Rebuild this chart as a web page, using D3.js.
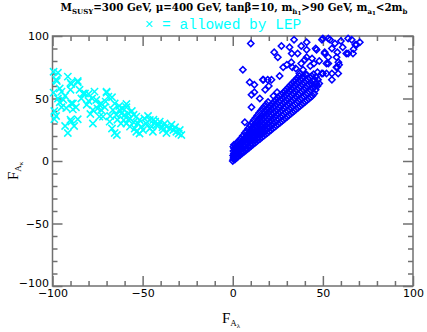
<!DOCTYPE html>
<html>
<head>
<meta charset="utf-8">
<script src="https://d3js.org/d3.v7.min.js"></script>
<style>
  body { margin: 0; background: #fff; }
  .tick text { font-family: "DejaVu Sans", sans-serif; font-size: 11px; fill: #000; }
</style>
</head>
<body>
<svg id="chart" width="427" height="332"></svg>
<script>
  // allowed by LEP (cyan crosses), [F_A_lambda, F_A_kappa]
  const lepPoints = [
    [-99.4,71.4],[-97,70.6],[-97.6,64],[-98,65],[-99.4,54.7],[-96,58],[-95,55.5],[-97,50],[-94,49],[-95,43],
    [-99,33.5],[-99,40],[-91.5,67.5],[-90,62.7],[-89.6,61.6],[-90,57],[-86,63],[-86,64],[-89.6,46],[-88.7,46],
    [-88.7,41.3],[-92.4,42.4],[-87,43],[-93,28],[-91.5,22.4],[-89.6,31.5],[-88,28],[-86,33.4],[-90,33],[-83,54],
    [-82,54],[-80,53.6],[-76.7,55.5],[-78,50],[-75.7,48.8],[-81,45],[-77.6,40.8],[-79,37.6],[-77.6,30],[-74,45],
    [-73,46],[-73,40.8],[-72,35.5],[-70,55.5],[-70,54.7],[-69,51.5],[-70.5,47.5],[-74,35.5],[-68.3,31.5],[-67,26],
    [-67,51],[-65.5,46],[-66.5,40.8],[-64.6,36.8],[-64.3,20.8],[-65.5,22.4],[-62.8,40.8],[-61,42],[-59,43],[-59,45.6],
    [-60,36.8],[-61.8,38],[-58,38],[-57,34],[-60.5,32.8],[-59,30],[-57,27.5],[-63,44],[-56,40],[-55,37],
    [-53.5,35.5],[-52.6,30],[-51.7,32.8],[-50.7,27.5],[-54.4,26],[-49,34],[-48,30],[-46,32.8],[-45,27.5],[-43,31.5],
    [-42.4,28.8],[-40.5,31.5],[-38.7,24.8],[-36.8,27.5],[-35,26],[-33,24.8],[-31.3,23.4],[-28.5,20.8],[-29.4,24.8],[-36.8,22.4],
    [-37.8,30],[-44.3,23.4],[-49.8,24.8],[-51.7,22],[-53.5,23.4],[-47,36],[-44,33],[-41,29],[-39,27],[-34,29],
    [-32,27],[-30,22],[-46,26],[-55,31],[-58,33],[-62,30],[-64,33],[-68,36],[-71,43],[-75,42],
    [-80,48],[-84,50],[-85,57],[-93,52],[-96,47],[-98,36]
  ];

  // all points (blue diamonds), [F_A_lambda, F_A_kappa]
  const allPoints = [
    [0,0],[0.3,1.5],[0.5,3],[0.2,4.5],[0.6,6],[0.4,8],[0.8,10],[0.3,11.5],[0.7,13],[1.2,1.2],
    [1.5,2.8],[1.1,4.6],[1.6,6.5],[1.3,8.4],[1.8,10.6],[1.4,12.8],[2.2,2.6],[2.5,4.2],[2.1,6],[2.7,7.8],
    [2.4,9.9],[2.9,12],[2.3,14.6],[3.1,3.7],[3.4,5.4],[3.2,7.3],[3.6,9.2],[3.3,11.5],[3.8,13.9],[3.5,16.4],
    [4.1,4.8],[4.4,6.6],[4.2,8.5],[4.7,10.6],[4.3,12.9],[4.9,15.3],[4.5,18],[5.2,6.1],[5.5,7.9],[5.1,10],
    [5.8,12.2],[5.4,14.6],[5.9,17.1],[5.6,20.2],[6.1,7.2],[6.5,9.1],[6.3,11.4],[6.8,13.7],[6.4,16.3],[6.9,19],
    [6.7,22.5],[7.2,8.4],[7.5,10.3],[7.3,12.6],[7.8,15],[7.4,17.7],[7.9,20.6],[7.6,24.1],[8.2,9.6],[8.5,11.8],
    [8.3,14.1],[8.8,16.6],[8.4,19.4],[8.9,22.4],[8.6,26],[9.2,10.8],[9.5,13],[9.3,15.6],[9.8,18.3],[9.4,21.2],
    [9.9,24.5],[9.6,28.2],[10.2,12],[10.5,14.4],[10.3,17],[10.8,19.8],[10.4,23],[10.9,26.4],[10.6,30.5],[11.2,13.2],
    [11.5,15.6],[11.3,18.4],[11.8,21.5],[11.4,24.8],[11.9,28.4],[11.6,32.6],[12.2,14.3],[12.5,16.9],[12.3,19.8],[12.8,23],
    [12.4,26.5],[12.9,30.3],[12.6,34.5],[13.2,15.5],[13.5,18.2],[13.3,21.2],[13.8,24.5],[13.4,28.1],[13.9,32],[13.6,36.5],
    [14.2,16.7],[14.5,19.4],[14.3,22.6],[14.8,26],[14.4,29.8],[14.9,33.9],[14.6,38.4],[15.2,17.8],[15.5,20.7],[15.3,24],
    [15.8,27.6],[15.4,31.5],[15.9,35.7],[15.6,40.2],[16.2,19],[16.5,22],[16.3,25.4],[16.8,29],[16.4,33],[16.9,37.4],
    [16.6,42],[17.2,20.1],[17.5,23.3],[17.3,26.8],[17.8,30.6],[17.4,34.7],[17.9,39],[17.6,43.8],[18.2,21.3],[18.5,24.6],
    [18.3,28.2],[18.8,32.1],[18.4,36.3],[18.9,40.8],[18.6,45.5],[19.2,22.4],[19.5,25.9],[19.3,29.6],[19.8,33.7],[19.4,38],
    [19.9,42.5],[19.6,47.2],[20.2,23.6],[20.5,27.2],[20.3,31],[20.8,35.2],[20.4,39.6],[20.9,44.2],[21.2,24.8],
    [21.5,28.5],[21.3,32.4],[21.8,36.7],[21.4,41.2],[21.9,45.8],[22.2,26],[22.5,29.8],[22.3,33.8],[22.8,38.2],
    [22.4,42.8],[22.9,47.5],[22.6,52],[23.2,27.1],[23.5,31.1],[23.3,35.2],[23.8,39.7],[23.4,44.3],[23.9,49],
    [24.2,28.3],[24.5,32.4],[24.3,36.6],[24.8,41.2],[24.4,45.9],[24.9,50.6],[24.6,55],[25.2,29.5],[25.5,33.7],[25.3,38],
    [25.8,42.7],[25.4,47.4],[25.9,52.1],[26.2,30.6],[26.5,35],[26.3,39.5],[26.8,44],[26.4,48.6],[26.9,53],[27.2,31.8],
    [27.5,36.2],[27.3,40.8],[27.8,45.5],[27.4,50],[27.9,54.5],[28.2,33],[28.5,37.5],[28.3,42.2],[28.8,47],[28.4,51.6],
    [28.9,56],[29.2,34.2],[29.5,38.8],[29.3,43.5],[29.8,48.4],[29.4,53],[29.9,57.5],[30.2,35.4],[30.5,40],[30.3,44.8],
    [30.8,49.8],[30.4,54.5],[30.9,59],[31.2,36.6],[31.5,41.3],[31.3,46.2],[31.8,51.2],[31.4,56],[31.9,60.6],[32.2,37.8],
    [32.5,42.6],[32.3,47.6],[32.8,52.6],[32.4,57.4],[32.9,62],[33.2,39],[33.5,44],[33.3,49],[33.8,54],[33.4,59],
    [33.9,63.6],[34.2,40.2],[34.5,45.2],[34.3,50.4],[34.8,55.5],[34.4,60.5],[34.9,65],[35.2,41.4],[35.5,46.5],[35.3,51.8],
    [35.8,57],[35.4,62],[35.9,66.6],[36.2,42.6],[36.5,47.8],[36.3,53.2],[36.8,58.4],[36.4,63.5],[36.9,68],[37.2,43.8],
    [37.5,49.2],[37.3,54.5],[37.8,59.8],[37.4,65],[38.2,45],[38.5,50.4],[38.3,55.9],[38.8,61.2],[38.4,66.4],[39.2,46.2],
    [39.5,51.6],[39.3,57.2],[39.8,62.6],[39.4,67.8],[40.2,47.4],[40.5,53],[40.3,58.6],[40.8,64],[40.4,69],[41.2,48.6],
    [41.5,54.2],[41.3,60],[41.8,65.4],[42.2,49.8],[42.5,55.5],[42.3,61.2],[42.8,66.6],[43.2,51],[43.5,56.8],[43.3,62.6],
    [43.8,68],[44.2,52.2],[44.5,58],[44.3,64],[44.8,69.5],[45.2,54],[45.5,59.5],[45.3,65],[46,57],[46.4,62],
    [46.2,67.5],[47,60],[47.3,65],
    // sparse points above the band
    [9.4,63],[16.7,65],[21.5,65],[10.4,53],[12,55],[6.7,31],[10.4,43],[5.6,73],[10,94],[23,87],
    [27,92],[31.5,91],[32.7,86],[41,95],[41,89],[46,90],[53,98],[54,97],[56.7,94],[61,91],
    [64,98],[68,93],[70.5,95],[67,89.5],[63,86],[55,90],[58,87],[51,86],[53,78],[58,75],
    [55,65],[58.5,70],[46.5,89],[41,83],[47,71],[50,70],[52,70],[48,62],[44,61],[37,70],
    [39,73],[30,77],[33,75],[25,83],[32.5,79],[36,86],[28,75],[41,69],[49.5,97],[51,87],
    [44,82],[40,81],[50,98],[60,96],[66,97],[57.6,83],[58.6,79],[59,77],[57.5,75],[52,78],
    [53,83],[64,86],[66.7,86],[68.7,93],[49.4,70],[55,70],[17,65],[12,61],[19.4,65],[26,68],
    [20,60],[18,57],[15,50],[35,74],[38,78],[43,76],[48,80],[34,97],[38,92],[45,78]
  ];

  const majorTicks = [-100, -50, 0, 50, 100];
  const minorTicks = [-90, -80, -70, -60, -40, -30, -20, -10, 10, 20, 30, 40, 60, 70, 80, 90];

  const svg = d3.select("#chart");

  const x = d3.scaleLinear().domain([-100, 100]).range([52.5, 413]);
  const y = d3.scaleLinear().domain([-100, 100]).range([286, 36]);

  const frameColor = "#707070";

  // title
  const titleParts = [
    ["M", 0], ["SUSY", 1], ["=300 GeV, \u03bc=400 GeV, tan\u03b2=10, m", 0], ["h", 1], ["1", 2],
    [">90 GeV, m", 0], ["a", 1], ["1", 2], ["<2m", 0], ["b", 1]
  ];
  const levelSize = [10.3, 7, 5.5];
  const levelShift = [0, 2.5, 4];
  const title = svg.append("text")
    .attr("x", 234)
    .attr("y", 11)
    .attr("text-anchor", "middle")
    .style("font-family", "'DejaVu Serif', serif")
    .style("font-weight", "bold");
  let shift = 0;
  titleParts.forEach(p => {
    title.append("tspan")
      .attr("dy", levelShift[p[1]] - shift)
      .style("font-size", levelSize[p[1]] + "px")
      .text(p[0]);
    shift = levelShift[p[1]];
  });

  // legend line
  svg.append("text")
    .attr("x", 223)
    .attr("y", 29)
    .attr("text-anchor", "middle")
    .style("font-family", "'Liberation Mono', monospace")
    .style("font-size", "14.5px")
    .style("fill", "#00ffff")
    .text("\u00d7 = allowed by LEP");

  const addAxis = (axis, transform, labels) => {
    const g = svg.append("g").attr("transform", transform).call(axis);
    g.select(".domain").remove();
    g.selectAll(".tick line").attr("stroke", frameColor).attr("stroke-width", 1.5);
    if (!labels) g.selectAll(".tick text").remove();
    return g;
  };

  // minor ticks on all four sides
  addAxis(d3.axisBottom(x).tickValues(minorTicks).tickSize(-5), "translate(0,286)", false);
  addAxis(d3.axisTop(x).tickValues(minorTicks).tickSize(-5), "translate(0,36)", false);
  addAxis(d3.axisLeft(y).tickValues(minorTicks).tickSize(-5), "translate(52.5,0)", false);
  addAxis(d3.axisRight(y).tickValues(minorTicks).tickSize(-5), "translate(413,0)", false);

  // major ticks, labels on bottom and left
  addAxis(d3.axisBottom(x).tickValues(majorTicks).tickSize(-10).tickPadding(3), "translate(0,286)", true);
  addAxis(d3.axisTop(x).tickValues(majorTicks).tickSize(-10), "translate(0,36)", false);
  const yAxisG = addAxis(d3.axisLeft(y).tickValues(majorTicks).tickSize(-10).tickPadding(3.5), "translate(52.5,0)", true);
  addAxis(d3.axisRight(y).tickValues(majorTicks).tickSize(-10), "translate(413,0)", false);

  // lowest y label sits a bit higher, clear of the x labels
  yAxisG.selectAll(".tick text").filter(d => d === -100).attr("dy", "0.05em");

  // frame
  svg.append("rect")
    .attr("x", x(-100))
    .attr("y", y(100))
    .attr("width", x(100) - x(-100))
    .attr("height", y(-100) - y(100))
    .attr("fill", "none")
    .attr("stroke", frameColor)
    .attr("stroke-width", 1.5);

  // blue diamonds
  const diamond = d3.symbol(d3.symbolSquare, 20);
  svg.append("g")
    .selectAll("path")
    .data(allPoints)
    .enter().append("path")
    .attr("d", diamond)
    .attr("transform", d => `translate(${x(d[0])},${y(d[1])}) rotate(45)`)
    .attr("fill", "none")
    .attr("stroke", "#0000ff")
    .attr("stroke-width", 1.5);

  // cyan crosses
  const cross = d3.symbol(d3.symbolTimes || d3.symbolCross, 36);
  svg.append("g")
    .selectAll("path")
    .data(lepPoints)
    .enter().append("path")
    .attr("d", cross)
    .attr("transform", d => `translate(${x(d[0])},${y(d[1])})`)
    .attr("fill", "none")
    .attr("stroke", "#00ffff")
    .attr("stroke-width", 1.5);

  // axis labels
  const xLabel = svg.append("text")
    .attr("x", 222)
    .attr("y", 323)
    .style("font-family", "'Liberation Serif', serif");
  xLabel.append("tspan").style("font-size", "15px").text("F");
  xLabel.append("tspan").attr("dy", 3).style("font-size", "9px").text("A");
  xLabel.append("tspan").attr("dy", 2).style("font-size", "7px").text("\u03bb");

  const yLabel = svg.append("text")
    .attr("transform", "translate(18,180) rotate(-90)")
    .style("font-family", "'Liberation Serif', serif");
  yLabel.append("tspan").style("font-size", "15px").text("F");
  yLabel.append("tspan").attr("dy", 3).style("font-size", "9px").text("A");
  yLabel.append("tspan").attr("dy", 2).style("font-size", "7px").text("\u03ba");
</script>
</body>
</html>
